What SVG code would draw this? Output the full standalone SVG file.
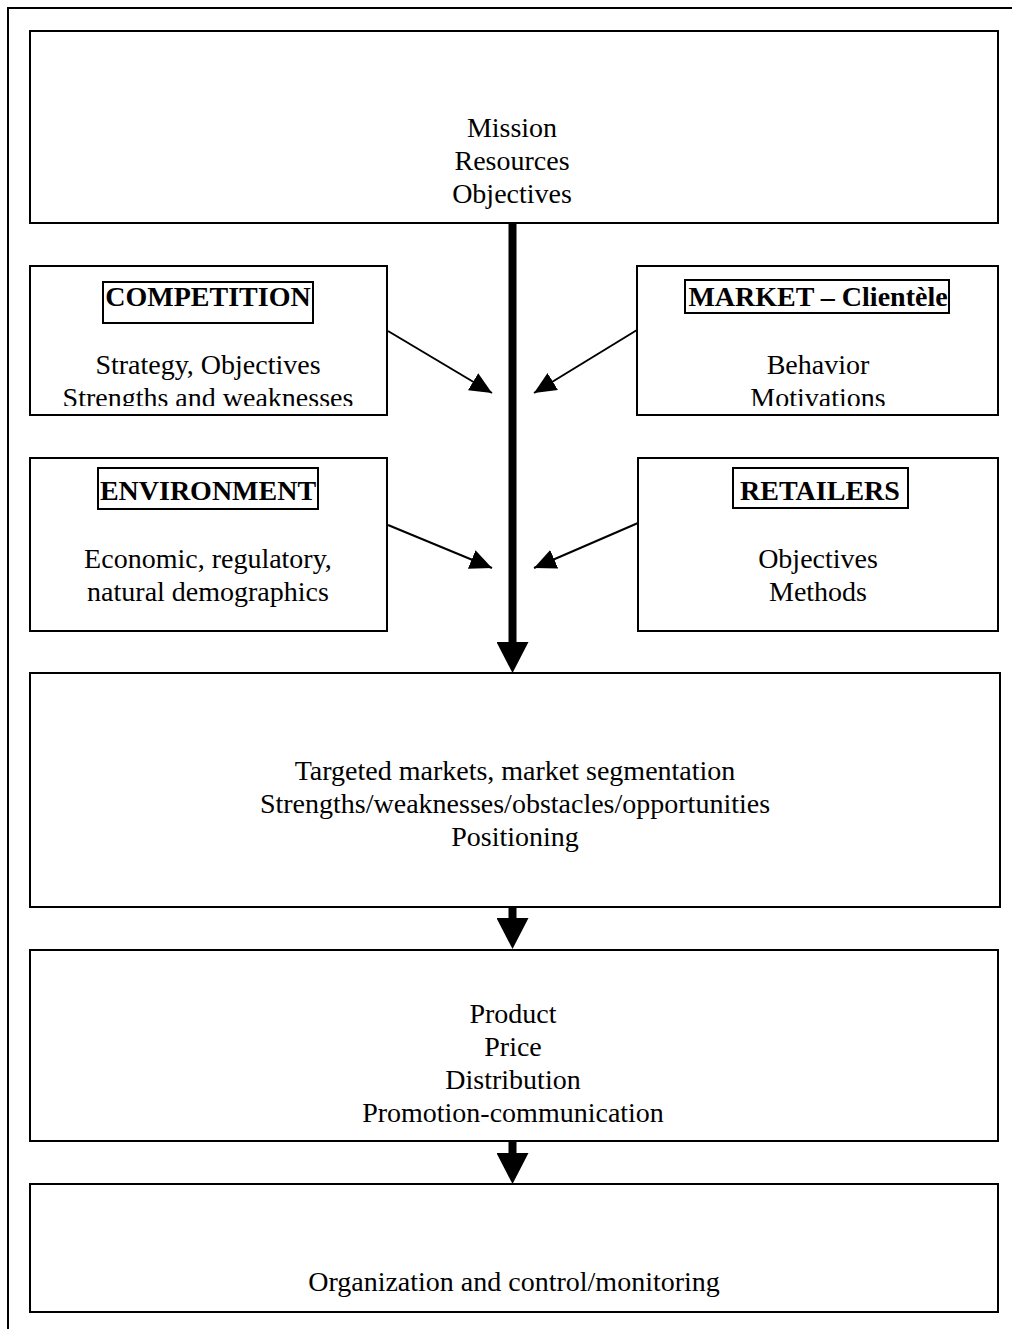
<svg xmlns="http://www.w3.org/2000/svg" width="1012" height="1329" viewBox="0 0 1012 1329">
  <style>
    .box { fill: #fff; stroke: #000; stroke-width: 2; }
    .tag { fill: none; stroke: #000; stroke-width: 2; }
    .txt { font-family: "Liberation Serif", "Times New Roman", serif; font-size: 28px; fill: #000; text-anchor: middle; }
    .ttl { font-family: "Liberation Serif", "Times New Roman", serif; font-size: 28px; font-weight: bold; fill: #000; text-anchor: middle; }
    .thin { stroke: #000; stroke-width: 2; fill: none; }
    .thick { stroke: #000; stroke-width: 8; fill: none; }
  </style>
  <defs>
    <marker id="head" viewBox="0 0 22 20" refX="22" refY="10" markerWidth="22" markerHeight="20" markerUnits="userSpaceOnUse" orient="auto">
      <path d="M0,0 L22,10 L0,20 z" fill="#000"/>
    </marker>
    <marker id="bighead" viewBox="0 0 31 32" refX="0" refY="16" markerWidth="31" markerHeight="32" markerUnits="userSpaceOnUse" orient="auto">
      <path d="M0,0 L31,16 L0,32 z" fill="#000"/>
    </marker>
    <clipPath id="clipTopLeft"><rect x="30" y="266" width="358" height="140"/></clipPath>
    <clipPath id="clipTopRight"><rect x="637" y="266" width="361" height="140"/></clipPath>
  </defs>

  <rect width="1012" height="1329" fill="#fff"/>

  <!-- page frame -->
  <path class="thin" d="M8,1329 V8 H1012"/>

  <!-- connectors -->
  <g id="connectors">
    <line class="thick" x1="512.5" y1="223" x2="512.5" y2="642" marker-end="url(#bighead)"/>
    <line class="thick" x1="512.5" y1="907" x2="512.5" y2="918" marker-end="url(#bighead)"/>
    <line class="thick" x1="512.5" y1="1141" x2="512.5" y2="1153" marker-end="url(#bighead)"/>
    <line class="thin" x1="388" y1="331" x2="492" y2="393" marker-end="url(#head)"/>
    <line class="thin" x1="637" y1="330" x2="534" y2="393" marker-end="url(#head)"/>
    <line class="thin" x1="388" y1="525" x2="492" y2="568" marker-end="url(#head)"/>
    <line class="thin" x1="638" y1="523" x2="534" y2="568" marker-end="url(#head)"/>
  </g>

  <!-- company -->
  <g id="node-company">
    <rect class="box" x="30" y="31" width="968" height="192"/>
    <text class="txt" x="512" y="137">Mission</text>
    <text class="txt" x="512" y="170">Resources</text>
    <text class="txt" x="512" y="203">Objectives</text>
  </g>

  <!-- competition -->
  <g id="node-competition">
    <rect class="box" x="30" y="266" width="357" height="149"/>
    <rect class="tag" x="103" y="282" width="210" height="41"/>
    <text class="ttl" x="208" y="306">COMPETITION</text>
    <g clip-path="url(#clipTopLeft)">
      <text class="txt" x="208" y="374">Strategy, Objectives</text>
      <text class="txt" x="208" y="407">Strengths and weaknesses</text>
    </g>
  </g>

  <!-- market -->
  <g id="node-market">
    <rect class="box" x="637" y="266" width="361" height="149"/>
    <rect class="tag" x="685" y="280" width="264" height="33"/>
    <text class="ttl" x="818" y="306">MARKET – Clientèle</text>
    <g clip-path="url(#clipTopRight)">
      <text class="txt" x="818" y="374">Behavior</text>
      <text class="txt" x="818" y="407">Motivations</text>
    </g>
  </g>

  <!-- environment -->
  <g id="node-environment">
    <rect class="box" x="30" y="458" width="357" height="173"/>
    <rect class="tag" x="98" y="468" width="220" height="41"/>
    <text class="ttl" x="208" y="500">ENVIRONMENT</text>
    <text class="txt" x="208" y="568">Economic, regulatory,</text>
    <text class="txt" x="208" y="601">natural demographics</text>
  </g>

  <!-- retailers -->
  <g id="node-retailers">
    <rect class="box" x="638" y="458" width="360" height="173"/>
    <rect class="tag" x="733" y="468" width="175" height="40"/>
    <text class="ttl" x="820" y="500">RETAILERS</text>
    <text class="txt" x="818" y="568">Objectives</text>
    <text class="txt" x="818" y="601">Methods</text>
  </g>

  <!-- analysis -->
  <g id="node-analysis">
    <rect class="box" x="30" y="673" width="970" height="234"/>
    <text class="txt" x="515" y="780">Targeted markets, market segmentation</text>
    <text class="txt" x="515" y="813">Strengths/weaknesses/obstacles/opportunities</text>
    <text class="txt" x="515" y="846">Positioning</text>
  </g>

  <!-- marketing mix -->
  <g id="node-mix">
    <rect class="box" x="30" y="950" width="968" height="191"/>
    <text class="txt" x="513" y="1023">Product</text>
    <text class="txt" x="513" y="1056">Price</text>
    <text class="txt" x="513" y="1089">Distribution</text>
    <text class="txt" x="513" y="1122">Promotion-communication</text>
  </g>

  <!-- implementation -->
  <g id="node-implementation">
    <rect class="box" x="30" y="1184" width="968" height="128"/>
    <text class="txt" x="514" y="1291">Organization and control/monitoring</text>
  </g>
</svg>
